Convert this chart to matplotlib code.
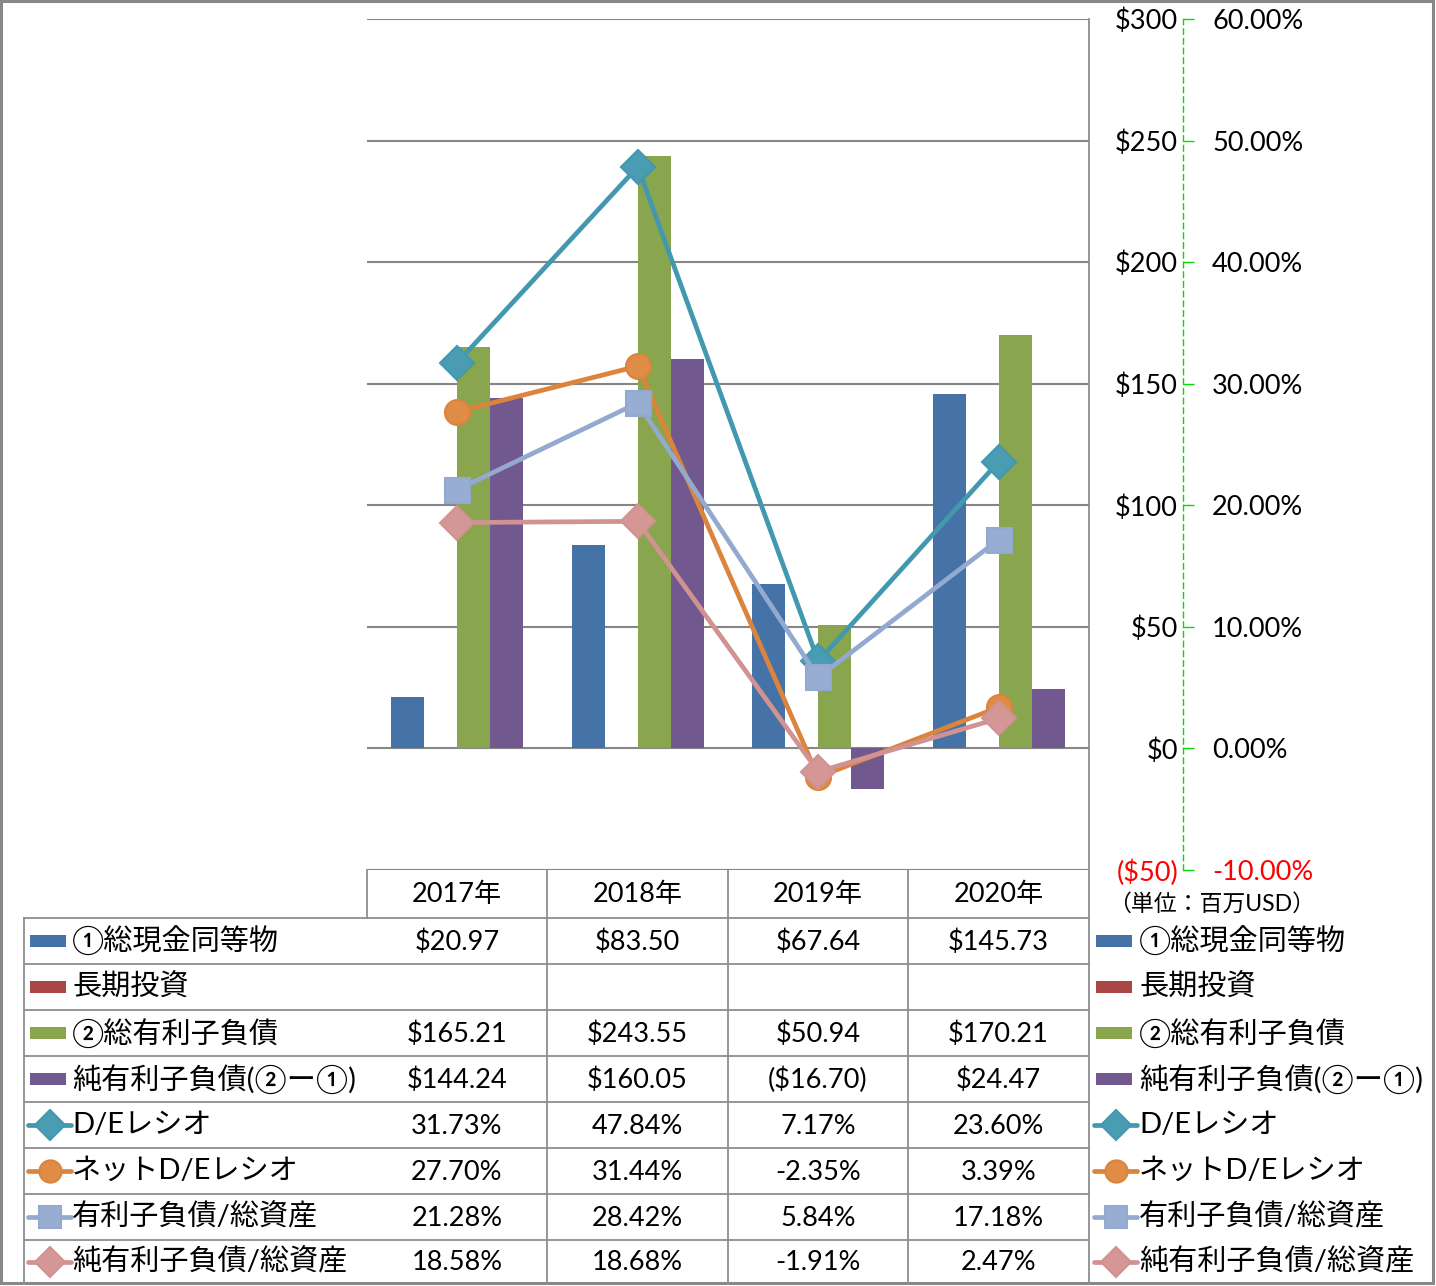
import matplotlib.pyplot as plt
import numpy as np
from matplotlib.patches import Rectangle

plt.rcParams['font.family'] = ['Lato', 'Noto Sans CJK JP']
plt.rcParams['text.parse_math'] = False

# data
years = ['2017年', '2018年', '2019年', '2020年']
cash = [20.97, 83.50, 67.64, 145.73]
long_inv = [np.nan, np.nan, np.nan, np.nan]
debt = [165.21, 243.55, 50.94, 170.21]
net_debt = [144.24, 160.05, -16.70, 24.47]
de_ratio = [31.73, 47.84, 7.17, 23.60]
net_de_ratio = [27.70, 31.44, -2.35, 3.39]
debt_assets = [21.28, 28.42, 5.84, 17.18]
net_debt_assets = [18.58, 18.68, -1.91, 2.47]

bar_names = ['①総現金同等物', '長期投資', '②総有利子負債', '純有利子負債(②ー①)']
line_names = ['D/Eレシオ', 'ネットD/Eレシオ', '有利子負債/総資産', '純有利子負債/総資産']
money_ticks = [-50, 0, 50, 100, 150, 200, 250, 300]
pct_ticks = [-10, 0, 10, 20, 30, 40, 50, 60]
unit_note = '（単位：百万USD）'

bar_colors = ['#4572A7', '#AA4643', '#89A54E', '#71588F']
line_colors = ['#4198AF', '#DB843D', '#93A9CF', '#D19392']
marker_fill = ['#4A9CB3', '#DF8C47', '#97ADD2', '#D49796']
markers = ['D', 'o', 's', 'D']
grid_c = '#868686'
table_c = '#8f8f8f'
num_fs = 19.5

W, H = 1436, 1286
fig = plt.figure(figsize=(W / 100, H / 100), dpi=100)

# overlay in pixel coordinates for the table and frame
ov = fig.add_axes([0, 0, 1, 1])
ov.set_xlim(0, W)
ov.set_ylim(H, 0)
ov.axis('off')

# main chart
x0, x1, y0, y1 = 367, 1089, 19, 870
ax = fig.add_axes([x0 / W, 1 - y1 / H, (x1 - x0) / W, (y1 - y0) / H])
ax.patch.set_alpha(0)
ax2 = ax.twinx()

x = np.arange(len(years))
bw = 0.183
bar_series = [cash, long_inv, debt, net_debt]
for i, vals in enumerate(bar_series):
    ax.bar(x + (i - 1.5) * bw, vals, bw, color=bar_colors[i], zorder=2)
ax.set_xlim(-0.5, len(years) - 0.5)
ax.set_ylim(-50, 300)
ax.set_xticks([])
for s in ax.spines.values():
    s.set_visible(False)
ax.yaxis.grid(True, color=grid_c, lw=1.5, zorder=0)
ax.set_axisbelow(True)

spine_pos = (1183 - x0) / (x1 - x0)
ax.yaxis.tick_right()
ax.spines['right'].set_position(('axes', spine_pos))
ax.set_yticks(money_ticks, ['(${})'.format(-v) if v < 0 else '${}'.format(v) for v in money_ticks])
ax.tick_params(axis='y', length=0, pad=-3.6, labelsize=num_fs, labelleft=False, labelright=True)
for t, v in zip(ax.yaxis.get_major_ticks(), money_ticks):
    t.label2.set_ha('right')
    t.label2.set_color('red' if v < 0 else 'black')

ax2.set_ylim(-10, 60)
line_series = [de_ratio, net_de_ratio, debt_assets, net_debt_assets]
for i, vals in enumerate(line_series):
    ax2.plot(x, vals, color=line_colors[i], lw=3.4, marker=markers[i],
             ms=18 if markers[i] != 'D' else 17, mfc=marker_fill[i], mec=line_colors[i],
             mew=1.5, solid_joinstyle='round', zorder=3)
for k in ['top', 'left', 'bottom']:
    ax2.spines[k].set_visible(False)
ax2.spines['right'].set_position(('axes', spine_pos))
ax2.spines['right'].set_color('#00dd00')
ax2.spines['right'].set_linestyle((0, (4, 3)))
ax2.spines['right'].set_linewidth(1)
ax2.set_yticks(pct_ticks, ['{:.2f}%'.format(v) for v in pct_ticks])
ax2.tick_params(axis='y', direction='out', length=8, width=1, color='#00dd00',
                pad=13, labelsize=num_fs)
for t, v in zip(ax2.yaxis.get_major_ticks(), pct_ticks):
    t.label2.set_color('red' if v < 0 else 'black')

ov.text(1108, 904, unit_note, fontsize=16.5, va='center', ha='left')

# table
col_edges = [367, 547, 728, 908, 1089]
row_edges = [870, 918, 964, 1010, 1056, 1102, 1148, 1194, 1240, 1284]
centers = [(a + b) / 2 for a, b in zip(col_edges[:-1], col_edges[1:])]

ov.plot([1089, 1089], [19, 1284], color=table_c, lw=1.3)
ov.plot([367, 367], [870, 918], color=table_c, lw=1.3)
ov.plot([24, 24], [918, 1284], color=table_c, lw=1.3)
for cx in col_edges[1:-1]:
    ov.plot([cx, cx], [870, 1284], color=table_c, lw=1.3)
for ry in row_edges[1:-1]:
    ov.plot([24, 1089], [ry, ry], color=table_c, lw=1.3)

for c, yr in zip(centers, years):
    ov.text(c, 894, yr, fontsize=num_fs, ha='center', va='center')


def money(v):
    if np.isnan(v):
        return ''
    return '(${:.2f})'.format(-v) if v < 0 else '${:.2f}'.format(v)


rows = [(bar_names[i], bar_series[i], money, 'bar', i) for i in range(4)]
rows += [(line_names[i], line_series[i], lambda v: '{:.2f}%'.format(v), 'line', i) for i in range(4)]

for r, (name, vals, fmt, kind, i) in enumerate(rows):
    yc = (row_edges[r + 1] + row_edges[r + 2]) / 2
    for lx, tx in [(28, 72), (1094, 1139)]:
        if kind == 'bar':
            ov.add_patch(Rectangle((lx + 2, yc - 6), 36, 12, color=bar_colors[i], lw=0))
        else:
            ov.plot([lx, lx + 43], [yc, yc], color=line_colors[i], lw=3.4,
                    solid_capstyle='round')
            ov.plot([lx + 21.5], [yc], marker=markers[i], ms=16 if markers[i] != 'D' else 15,
                    mfc=marker_fill[i], mec=line_colors[i], mew=1.5)
        ov.text(tx, yc, name, fontsize=21, ha='left', va='center')
    for c, v in zip(centers, vals):
        ov.text(c, yc + 1, fmt(v), fontsize=num_fs, ha='center', va='center')

# outer frame
ov.add_patch(Rectangle((1, 1), 1432, 1282, fill=False, ec='#888888', lw=2.2))

fig.savefig('out.png', dpi=100)
